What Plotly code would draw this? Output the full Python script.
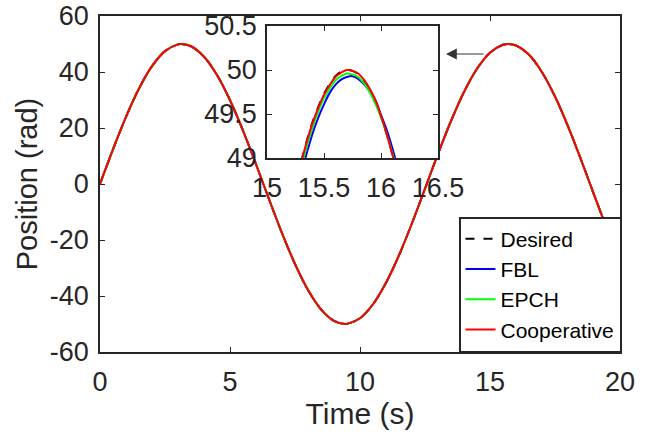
import plotly.graph_objects as go

# ---------------- data ----------------
series_names = ["Desired", "FBL", "EPCH", "Cooperative"]
series_colors = ["#000000", "#0000FF", "#00FF00", "#FF0000"]

# main view: all four responses overlap at this scale
t_main = [0, 0.5, 1, 1.5, 2, 2.5, 3, 3.14, 3.5, 4, 4.5, 5, 5.5, 6, 6.5, 7, 7.5, 8,
          8.5, 9, 9.42, 9.5, 10, 10.5, 11, 11.5, 12, 12.5, 13, 13.5, 14, 14.5, 15,
          15.5, 15.71, 16, 16.5, 17, 17.5, 18, 18.5, 19, 19.5, 20]
pos_main = [0, 12.37, 23.97, 34.08, 42.07, 47.45, 49.87, 50.0, 49.20, 45.46, 38.91,
            29.92, 19.08, 7.06, -5.41, -17.54, -28.58, -37.84, -44.75, -48.88, -50.0,
            -49.96, -47.95, -42.94, -35.28, -25.45, -13.97, -1.66, 10.76, 22.50, 32.85,
            41.16, 46.90, 49.73, 50.0, 49.47, 46.14, 39.93, 31.24, 20.61, 8.72, -3.76,
            -15.97, -27.20]

# zoomed view around the third peak
t_zoom = [15.30, 15.35, 15.40, 15.45, 15.50, 15.55, 15.60, 15.65, 15.70, 15.75,
          15.80, 15.85, 15.90, 15.95, 16.00, 16.05, 16.10, 16.15]
desired_zoom = [48.96, 49.20, 49.41, 49.58, 49.73, 49.84, 49.93, 49.98, 50.00, 49.99,
                49.95, 49.87, 49.77, 49.63, 49.47, 49.27, 49.04, 48.78]
fbl_zoom = [48.82, 49.06, 49.28, 49.46, 49.61, 49.74, 49.83, 49.89, 49.92, 49.93,
            49.90, 49.84, 49.76, 49.66, 49.49, 49.32, 49.11, 48.87]
epch_zoom = [48.90, 49.14, 49.35, 49.53, 49.68, 49.79, 49.88, 49.93, 49.96, 49.95,
             49.92, 49.85, 49.75, 49.62, 49.46, 49.27, 49.05, 48.80]
coop_zoom = [48.95, 49.19, 49.40, 49.57, 49.72, 49.83, 49.92, 49.97, 50.00, 49.99,
             49.96, 49.89, 49.79, 49.66, 49.48, 49.27, 49.04, 48.78]
zoom_series = [desired_zoom, fbl_zoom, epch_zoom, coop_zoom]

x_ticks = [0, 5, 10, 15, 20]
y_ticks = [-60, -40, -20, 0, 20, 40, 60]
y_ticktext = ["-60", "-40", "-20", "0", "20", "40", "60"]
xz_ticks = [15, 15.5, 16, 16.5]
yz_ticks = [49, 49.5, 50, 50.5]

x_title = "Time (s)"
y_title = "Position (rad)"

# ---------------- figure ----------------
W, H = 651, 437
FONT = "Liberation Sans, Arial, Helvetica, sans-serif"
AX = "#262626"

fig = go.Figure()
for i, name in enumerate(series_names):
    dash = "dash" if name == "Desired" else "solid"
    fig.add_trace(go.Scatter(
        x=t_main, y=pos_main, mode="lines", name=name, legendgroup=name,
        line=dict(color=series_colors[i], width=2, dash=dash, shape="spline"),
        xaxis="x", yaxis="y"))
for i, name in enumerate(series_names):
    dash = "dash" if name == "Desired" else "solid"
    fig.add_trace(go.Scatter(
        x=t_zoom, y=zoom_series[i], mode="lines", name=name, legendgroup=name,
        showlegend=False,
        line=dict(color=series_colors[i], width=2, dash=dash, shape="spline"),
        xaxis="x2", yaxis="y2"))

main_l, main_r, main_t, main_b = 100, 620, 16, 352
ins_l, ins_r, ins_t, ins_b = 267, 438, 26, 158

axis_common = dict(showgrid=False, zeroline=False, showline=True, linecolor=AX,
                   linewidth=1.5, mirror="ticks", ticks="inside", ticklen=5,
                   tickwidth=1.2, tickcolor=AX, automargin=False,
                   tickfont=dict(family=FONT, size=27, color=AX))

fig.update_layout(
    width=W, height=H,
    margin=dict(l=0, r=0, t=0, b=0),
    paper_bgcolor="white", plot_bgcolor="white",
    font=dict(family=FONT, color=AX),
    xaxis=dict(domain=[main_l / W, main_r / W], range=[0, 20],
               tickvals=x_ticks, ticktext=[str(v) for v in x_ticks],
               ticklabelstandoff=5,
               title=dict(text=x_title, font=dict(family=FONT, size=30, color=AX), standoff=4),
               anchor="y", **axis_common),
    yaxis=dict(domain=[1 - main_b / H, 1 - main_t / H], range=[-60, 60],
               tickvals=y_ticks, ticktext=y_ticktext,
               ticklabelstandoff=4,
               title=dict(text=y_title, font=dict(family=FONT, size=29, color=AX), standoff=4),
               anchor="x", **axis_common),
    xaxis2=dict(domain=[ins_l / W, ins_r / W], range=[15, 16.5],
                tickvals=xz_ticks, ticktext=["15", "15.5", "16", "16.5"],
                ticklabelstandoff=5,
                anchor="y2", **axis_common),
    yaxis2=dict(domain=[1 - ins_b / H, 1 - ins_t / H], range=[49, 50.5],
                tickvals=yz_ticks, ticktext=["49", "49.5", "50", "50.5"],
                ticklabelstandoff=3,
                anchor="x2", **axis_common),
    legend=dict(x=621 / W, y=1 - 352 / H, xanchor="right", yanchor="bottom",
                bgcolor="white", bordercolor=AX, borderwidth=1.5,
                font=dict(family=FONT, size=21, color="#000000"),
                itemwidth=30, tracegroupgap=0),
    showlegend=True,
)

# arrow pointing from the main-plot peak to the zoomed inset
fig.add_annotation(x=446 / W, y=1 - 54 / H, xref="paper", yref="paper",
                   ax=39, ay=0, axref="pixel", ayref="pixel",
                   text="", showarrow=True, arrowhead=2, arrowsize=1.8,
                   arrowwidth=1.2, arrowcolor="#333333")

fig.write_html("out.html")
